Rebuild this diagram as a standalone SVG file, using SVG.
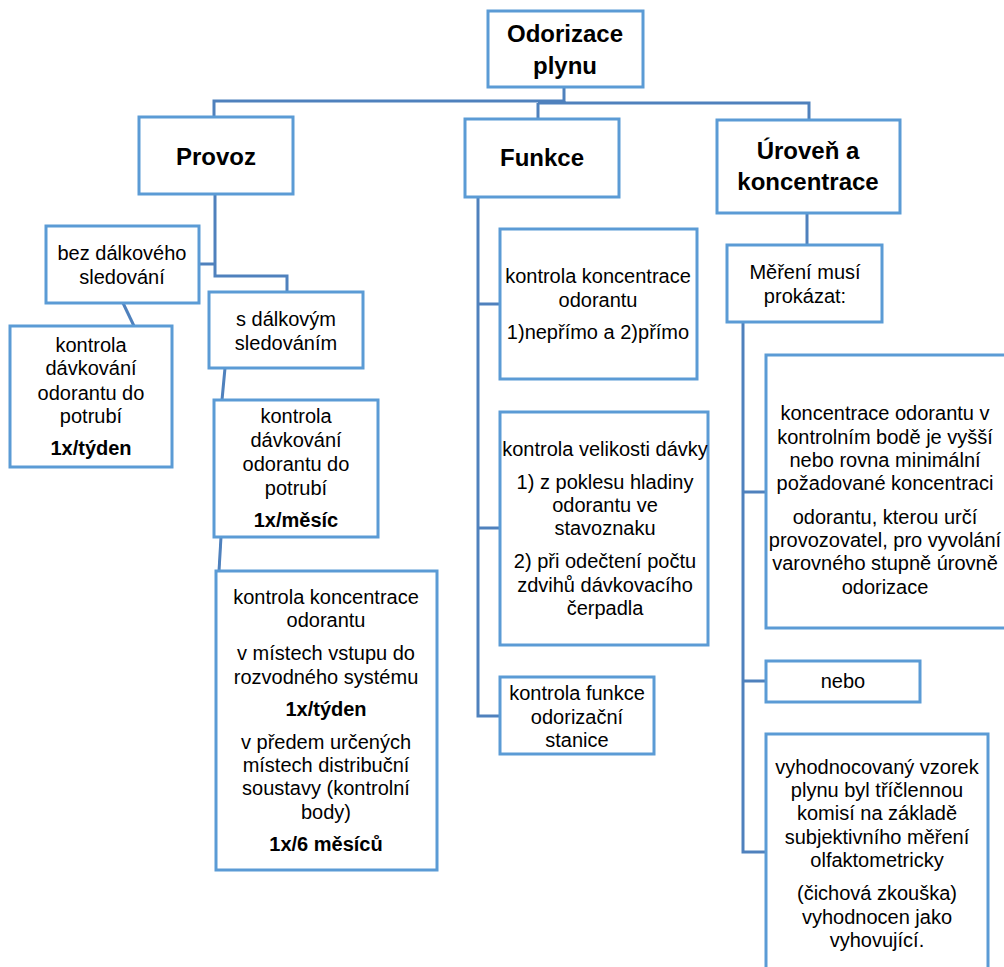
<svg xmlns="http://www.w3.org/2000/svg" width="1004" height="967" viewBox="0 0 1004 967">
<style>
.box{fill:#fff;stroke:#5b9bd5;stroke-width:3}
.con{fill:none;stroke:#4f81bd;stroke-width:3}
text{font-family:"Liberation Sans",Arial,sans-serif;font-size:20px;fill:#000;text-anchor:middle}
.h{font-size:24px;font-weight:bold}
.b{font-weight:bold}
</style>
<rect width="1004" height="967" fill="#fff"/>
<g id="connectors">
<path class="con" d="M564,87 V101 H214 V117"/>
<path class="con" d="M564,101 V103 M538,103 H809 V120 M538,103 V119"/>
<path class="con" d="M215,194 V276 H287 V292 M198,264 H215"/>
<path class="con" d="M123,303 L134,326"/>
<path class="con" d="M225,368 L222,400"/>
<path class="con" d="M221,537 L219,571"/>
<path class="con" d="M478,197 V716 H500 M478,304 H500 M478,528 H500"/>
<path class="con" d="M807,213 V245"/>
<path class="con" d="M743,322 V852 H766 M743,492 H766 M743,681 H766"/>
</g>
<g id="root"><rect class="box" x="488" y="11" width="155" height="76"/><text class="h" x="565" y="42">Odorizace</text><text class="h" x="565" y="74">plynu</text></g>
<g id="provoz"><rect class="box" x="139" y="117" width="154" height="77"/><text class="h" x="216" y="165">Provoz</text></g>
<g id="funkce"><rect class="box" x="465" y="119" width="154" height="78"/><text class="h" x="542" y="166">Funkce</text></g>
<g id="uroven"><rect class="box" x="717" y="120" width="183" height="93"/><text class="h" x="808" y="159">Úroveň a</text><text class="h" x="808" y="190">koncentrace</text></g>
<g id="bez"><rect class="box" x="46" y="226" width="153" height="77"/><text x="122" y="260">bez dálkového</text><text x="122" y="284">sledování</text></g>
<g id="sdalk"><rect class="box" x="209" y="292" width="154" height="76"/><text x="286" y="326">s dálkovým</text><text x="286" y="350">sledováním</text></g>
<g id="davk1"><rect class="box" x="10" y="326" width="162" height="141"/><text x="91" y="352">kontrola</text><text x="91" y="375">dávkování</text><text x="91" y="400">odorantu do</text><text x="91" y="423">potrubí</text><text class="b" x="91" y="455">1x/týden</text></g>
<g id="davk2"><rect class="box" x="214" y="400" width="164" height="137"/><text x="296" y="423">kontrola</text><text x="296" y="447">dávkování</text><text x="296" y="471">odorantu do</text><text x="296" y="495">potrubí</text><text class="b" x="296" y="527">1x/měsíc</text></g>
<g id="konc"><rect class="box" x="216" y="571" width="221" height="299"/><text x="326" y="604">kontrola koncentrace</text><text x="326" y="627">odorantu</text><text x="326" y="660">v místech vstupu do</text><text x="326" y="684">rozvodného systému</text><text class="b" x="326" y="716">1x/týden</text><text x="326" y="749">v předem určených</text><text x="326" y="772">místech distribuční</text><text x="326" y="795">soustavy (kontrolní</text><text x="326" y="819">body)</text><text class="b" x="326" y="851">1x/6 měsíců</text></g>
<g id="fkonc"><rect class="box" x="500" y="229" width="197" height="150"/><text x="598" y="283">kontrola koncentrace</text><text x="598" y="307">odorantu</text><text x="598" y="339">1)nepřímo a 2)přímo</text></g>
<g id="fdavka"><rect class="box" x="500" y="412" width="208" height="233"/><text x="605" y="456">kontrola velikosti dávky</text><text x="605" y="489">1) z poklesu hladiny</text><text x="605" y="512">odorantu ve</text><text x="605" y="535">stavoznaku</text><text x="605" y="568">2) při odečtení počtu</text><text x="605" y="592">zdvihů dávkovacího</text><text x="605" y="615">čerpadla</text></g>
<g id="ffunkce"><rect class="box" x="500" y="677" width="154" height="77"/><text x="577" y="700">kontrola funkce</text><text x="577" y="724">odorizační</text><text x="577" y="747">stanice</text></g>
<g id="mereni"><rect class="box" x="727" y="245" width="155" height="77"/><text x="805" y="279">Měření musí</text><text x="805" y="303">prokázat:</text></g>
<g id="ukonc"><rect class="box" x="766" y="355" width="245" height="273"/><text x="885" y="420">koncentrace odorantu v</text><text x="885" y="444">kontrolním bodě je vyšší</text><text x="885" y="467">nebo rovna minimální</text><text x="885" y="490">požadované koncentraci</text><text x="885" y="524">odorantu, kterou určí</text><text x="885" y="547">provozovatel, pro vyvolání</text><text x="885" y="570">varovného stupně úrovně</text><text x="885" y="594">odorizace</text></g>
<g id="nebo"><rect class="box" x="766" y="661" width="154" height="41"/><text x="843" y="688">nebo</text></g>
<g id="vzorek"><rect class="box" x="766" y="734" width="222" height="245"/><text x="877" y="774">vyhodnocovaný vzorek</text><text x="877" y="797">plynu byl tříčlennou</text><text x="877" y="820">komisí na základě</text><text x="877" y="844">subjektivního měření</text><text x="877" y="867">olfaktometricky</text><text x="877" y="900">(čichová zkouška)</text><text x="877" y="924">vyhodnocen jako</text><text x="877" y="947">vyhovující.</text></g>
</svg>
